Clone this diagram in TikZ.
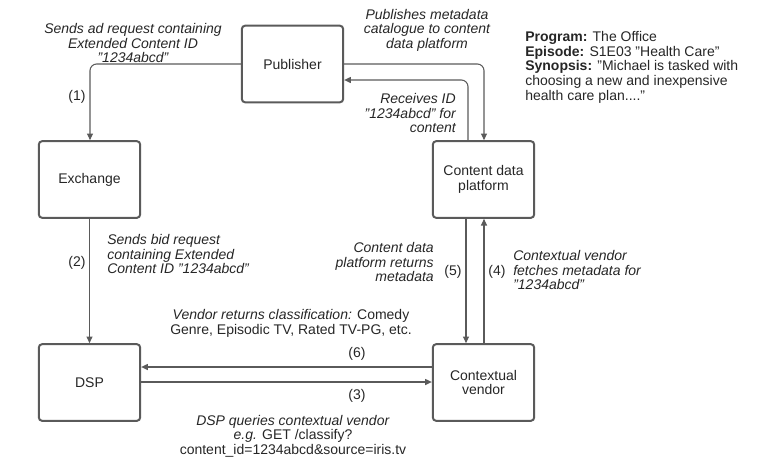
\documentclass[tikz,border=0pt]{standalone}
\usepackage{fontspec}
\setmainfont{Liberation Sans}
\usetikzlibrary{arrows.meta}
\definecolor{ln}{HTML}{5A5A5A}
\definecolor{tx}{HTML}{262626}
\begin{document}
\begin{tikzpicture}[x=0.75pt,y=-0.75pt,
  font=\fontsize{10.5}{10.9}\selectfont, text=tx,
  box/.style={draw=ln, line width=1.5pt, rounded corners=2.5pt, minimum width=76pt, minimum height=57.5pt, align=center, inner sep=0pt},
  conn/.style={draw=ln, line width=0.8pt, -{Triangle[length=5pt,width=4.5pt]}, rounded corners=5pt},
  lbl/.style={inner sep=0pt, align=center},
  note/.style={inner sep=0pt, font=\fontsize{10.5}{10.9}\selectfont\itshape}]
\useasboundingbox (0,0) rectangle (764,465);

\node[box] (pub) at (292.5,64) {Publisher};
\node[box] (exc) at (89.5,179.5) {Exchange};
\node[box] (dsp) at (89.5,382.5) {DSP};
\node[box] (cdp) at (483.5,179.5) {Content data\\platform};
\node[box] (cv)  at (483.5,382.5) {Contextual\\vendor};

% (1)
\coordinate (c1) at (90,64);
\draw[conn] (pub.west |- c1) -- (c1) -- (exc.north -| c1);
\node[lbl] (l1) at (77,97) {(1)};
\node[note, align=center] (n1) at (133,43) {Sends ad request containing\\Extended Content ID\\"1234abcd"};

% publisher -> cdp
\coordinate (c2) at (484,64);
\draw[conn] (pub.east |- c2) -- (c2) -- (cdp.north -| c2);
\node[note, align=center] (n2) at (427,30) {Publishes metadata\\catalogue to content\\data platform};

% cdp -> publisher
\coordinate (c3) at (468,80);
\draw[conn] (cdp.north -| c3) -- (c3) -- (pub.east |- c3);
\node[note, align=right, anchor=east] (n3) at (456,113) {Receives ID\\"1234abcd" for\\content};

% info
\node[inner sep=0pt, align=left, anchor=north west] (info) at (525,31.5) {\textbf{Program:} The Office\\\textbf{Episode:} S1E03 "Health Care"\\\textbf{Synopsis:} "Michael is tasked with\\choosing a new and inexpensive\\health care plan...."};

% (2)
\draw[conn] (exc.south) -- (dsp.north);
\node[lbl] (l2) at (77,263) {(2)};
\node[note, align=left, anchor=west] (n4) at (107,254) {Sends bid request\\containing Extended\\Content ID "1234abcd"};

% (5)
\coordinate (c5) at (466,300);
\draw[conn] (cdp.south -| c5) -- (cv.north -| c5);
\node[lbl] (l5) at (453,272) {(5)};
\node[note, align=right, anchor=east] (n5) at (434,262) {Content data\\platform returns\\metadata};

% (4)
\coordinate (c4) at (484,300);
\draw[conn] (cv.north -| c4) -- (cdp.south -| c4);
\node[lbl] (l4) at (497,272) {(4)};
\node[note, align=left, anchor=west] (n6) at (513,270) {Contextual vendor\\fetches metadata for\\"1234abcd"};

% (6)
\coordinate (c6) at (300,367);
\draw[conn] (cv.west |- c6) -- (dsp.east |- c6);
\node[lbl] (l6) at (357,354) {(6)};
\node[lbl] (n7) at (291,323.5) {\textit{Vendor returns classification:} Comedy\\Genre, Episodic TV, Rated TV-PG, etc.};

% (3)
\coordinate (c7) at (300,382);
\draw[conn] (dsp.east |- c7) -- (cv.west |- c7);
\node[lbl] (l3) at (357,396) {(3)};
\node[lbl] (n8) at (293,436) {\textit{DSP queries contextual vendor}\\\textit{e.g.} GET /classify?\\content\_id=1234abcd\&source=iris.tv};
\end{tikzpicture}
\end{document}
